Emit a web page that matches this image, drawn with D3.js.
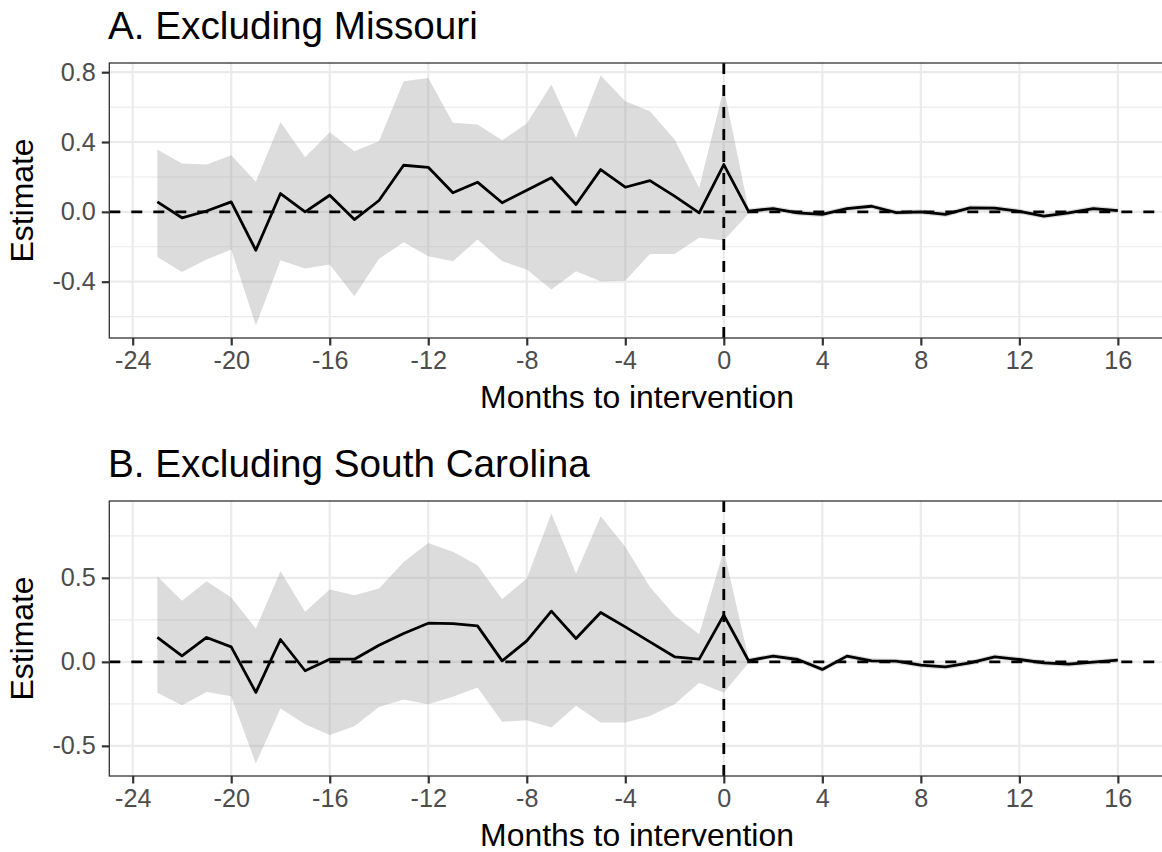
<!DOCTYPE html>
<html>
<head>
<meta charset="utf-8">
<script src="https://cdn.jsdelivr.net/npm/d3@7"></script>
<style>
  html, body { margin: 0; padding: 0; background: #fff; }
  svg { display: block; font-family: "Liberation Sans", Arial, sans-serif; }
</style>
</head>
<body>
<svg id="chart" width="1162" height="852"></svg>
<script>
// Event-study months relative to the intervention
const months = [-23, -22, -21, -20, -19, -18, -17, -16, -15, -14, -13, -12, -11, -10, -9, -8, -7, -6, -5, -4,
  -3, -2, -1, 0, 1, 2, 3, 4, 5, 6, 7, 8, 9, 10, 11, 12, 13, 14, 15, 16];

// Panel A: excluding Missouri
const estA = [0.057, -0.034, 0.005, 0.057, -0.220, 0.105, 0.000, 0.095, -0.044, 0.065, 0.267, 0.255, 0.109, 0.170,
  0.052, 0.124, 0.195, 0.042, 0.242, 0.141, 0.179, 0.090, -0.006, 0.271, 0.004, 0.019, -0.006, -0.015, 0.019,
  0.032, -0.004, 0.000, -0.015, 0.023, 0.021, 0.003, -0.025, -0.006, 0.019, 0.007];
const upperA = [0.357, 0.277, 0.271, 0.324, 0.172, 0.515, 0.313, 0.456, 0.347, 0.404, 0.748, 0.767, 0.510, 0.500,
  0.410, 0.506, 0.729, 0.424, 0.781, 0.633, 0.576, 0.414, 0.137, 0.710, 0.019, 0.034, 0.009, 0.000, 0.034,
  0.047, 0.011, 0.015, 0.000, 0.038, 0.036, 0.018, -0.010, 0.009, 0.034, 0.022];
const lowerA = [-0.258, -0.344, -0.273, -0.216, -0.651, -0.277, -0.325, -0.302, -0.483, -0.269, -0.174, -0.254,
  -0.283, -0.159, -0.283, -0.330, -0.445, -0.340, -0.397, -0.394, -0.241, -0.241, -0.149, -0.164, -0.011, 0.004,
  -0.021, -0.030, 0.004, 0.017, -0.019, -0.015, -0.030, 0.008, 0.006, -0.012, -0.040, -0.021, 0.004, -0.008];

// Panel B: excluding South Carolina
const estB = [0.145, 0.036, 0.145, 0.089, -0.182, 0.133, -0.053, 0.016, 0.016, 0.099, 0.169, 0.230, 0.228, 0.214,
  0.006, 0.125, 0.302, 0.139, 0.294, 0.208, 0.119, 0.030, 0.016, 0.278, 0.008, 0.034, 0.014, -0.045, 0.034,
  0.006, 0.004, -0.020, -0.030, -0.006, 0.030, 0.014, -0.006, -0.014, -0.002, 0.010];
const upperB = [0.510, 0.363, 0.480, 0.383, 0.199, 0.540, 0.298, 0.431, 0.397, 0.437, 0.595, 0.708, 0.655, 0.575,
  0.373, 0.496, 0.883, 0.526, 0.867, 0.685, 0.446, 0.278, 0.165, 0.665, 0.023, 0.049, 0.029, -0.030, 0.049,
  0.021, 0.019, -0.005, -0.015, 0.009, 0.045, 0.029, 0.009, 0.001, 0.013, 0.025];
const lowerB = [-0.184, -0.258, -0.179, -0.204, -0.605, -0.278, -0.371, -0.436, -0.383, -0.268, -0.224, -0.252,
  -0.208, -0.153, -0.357, -0.347, -0.391, -0.262, -0.361, -0.361, -0.323, -0.252, -0.125, -0.184, -0.007, 0.019,
  -0.001, -0.060, 0.019, -0.009, -0.011, -0.035, -0.045, -0.021, 0.015, -0.001, -0.021, -0.029, -0.017, -0.005];

// Axis breaks
const xTicks = [-24, -20, -16, -12, -8, -4, 0, 4, 8, 12, 16];
const yTicksA = [-0.4, 0.0, 0.4, 0.8];
const yMinorA = [-0.6, -0.2, 0.2, 0.6];
const yTicksB = [-0.5, 0.0, 0.5];
const yMinorB = [-0.25, 0.25, 0.75];

const titles = ["A. Excluding Missouri", "B. Excluding South Carolina"];
const xTitle = "Months to intervention";
const yTitle = "Estimate";

const svg = d3.select("#chart");

// panel geometry
const left = 109.3, right = 1165.9;
const panelH = 275;
const panels = [
  { top: 63, title: titles[0], est: estA, lo: lowerA, hi: upperA, ticks: yTicksA, minor: yMinorA },
  { top: 501, title: titles[1], est: estB, lo: lowerB, hi: upperB, ticks: yTicksB, minor: yMinorB }
];

// ggplot-style 5% expansion on a continuous range
function expand(lo, hi) {
  const r = hi - lo;
  return [lo - 0.05 * r, hi + 0.05 * r];
}

// ASCII hyphen for negative numbers
const minus = s => s.replace("\u2212", "-");

const xExt = d3.extent(months);
const x = d3.scaleLinear().domain(expand(xExt[0], xExt[1])).range([left, right]);

const LINE_W = 2.8;

panels.forEach((p, i) => {
  const top = p.top, bottom = top + panelH;
  const y = d3.scaleLinear().domain(expand(d3.min(p.lo), d3.max(p.hi))).range([bottom, top]);

  const g = svg.append("g");

  svg.append("clipPath").attr("id", "clip" + i)
    .append("rect").attr("x", left).attr("y", top).attr("width", right - left).attr("height", panelH);

  const pg = g.append("g").attr("clip-path", `url(#clip${i})`);

  // panel background
  pg.append("rect").attr("x", left).attr("y", top).attr("width", right - left).attr("height", panelH)
    .attr("fill", "#fff");

  // minor horizontal grid
  pg.selectAll(".ymin").data(p.minor).join("line")
    .attr("x1", left).attr("x2", right)
    .attr("y1", d => y(d)).attr("y2", d => y(d))
    .attr("stroke", "#EBEBEB").attr("stroke-width", 1.1);

  // major horizontal grid
  pg.selectAll(".ymaj").data(p.ticks).join("line")
    .attr("x1", left).attr("x2", right)
    .attr("y1", d => y(d)).attr("y2", d => y(d))
    .attr("stroke", "#EBEBEB").attr("stroke-width", 2.2);

  // major vertical grid
  pg.selectAll(".xmaj").data(xTicks).join("line")
    .attr("x1", d => x(d)).attr("x2", d => x(d))
    .attr("y1", top).attr("y2", bottom)
    .attr("stroke", "#EBEBEB").attr("stroke-width", 2.2);

  const rows = months.map((m, k) => ({ m, est: p.est[k], lo: p.lo[k], hi: p.hi[k] }));

  // confidence ribbon
  pg.append("path").datum(rows)
    .attr("d", d3.area().x(d => x(d.m)).y0(d => y(d.lo)).y1(d => y(d.hi)))
    .attr("fill", "#999999").attr("fill-opacity", 0.34);

  // reference lines at zero effect and at the intervention month
  pg.append("line")
    .attr("x1", left).attr("x2", right).attr("y1", y(0)).attr("y2", y(0))
    .attr("stroke", "#000").attr("stroke-width", LINE_W).attr("stroke-dasharray", "11,11");
  pg.append("line")
    .attr("x1", x(0)).attr("x2", x(0)).attr("y1", top).attr("y2", bottom)
    .attr("stroke", "#000").attr("stroke-width", LINE_W).attr("stroke-dasharray", "11,11");

  // point estimates
  pg.append("path").datum(rows)
    .attr("d", d3.line().x(d => x(d.m)).y(d => y(d.est)))
    .attr("fill", "none").attr("stroke", "#000").attr("stroke-width", LINE_W)
    .attr("stroke-linejoin", "round");

  // panel border
  g.append("rect").attr("x", left).attr("y", top).attr("width", right - left).attr("height", panelH)
    .attr("fill", "none").attr("stroke", "#333333").attr("stroke-width", 1.3);

  // x axis
  const xAxis = d3.axisBottom(x).tickValues(xTicks).tickSize(7.5).tickPadding(6)
    .tickFormat(d => minus(d3.format("d")(d)));
  const xa = g.append("g").attr("transform", `translate(0,${bottom})`).call(xAxis);
  xa.select(".domain").remove();
  xa.selectAll(".tick line").attr("stroke", "#333333").attr("stroke-width", 2.2);
  xa.selectAll(".tick text").attr("fill", "#4D4D4D").attr("font-size", 25.2)
    .attr("font-family", "Liberation Sans, Arial, sans-serif");

  // y axis
  const yAxis = d3.axisLeft(y).tickValues(p.ticks).tickSize(7.5).tickPadding(6)
    .tickFormat(d => minus(d3.format(".1f")(d)));
  const ya = g.append("g").attr("transform", `translate(${left},0)`).call(yAxis);
  ya.select(".domain").remove();
  ya.selectAll(".tick line").attr("stroke", "#333333").attr("stroke-width", 2.2);
  ya.selectAll(".tick text").attr("fill", "#4D4D4D").attr("font-size", 25.2)
    .attr("font-family", "Liberation Sans, Arial, sans-serif");

  // panel title
  g.append("text").attr("x", 108).attr("y", top - 23.7)
    .attr("font-size", 38.7).attr("fill", "#000").text(p.title);

  // axis titles
  g.append("text").attr("x", 637).attr("y", bottom + 69.5)
    .attr("text-anchor", "middle").attr("font-size", 31.9).attr("fill", "#000").text(xTitle);

  g.append("text")
    .attr("transform", `translate(33.3,${(top + bottom) / 2}) rotate(-90)`)
    .attr("text-anchor", "middle").attr("font-size", 31.9).attr("fill", "#000").text(yTitle);
});
</script>
</body>
</html>
